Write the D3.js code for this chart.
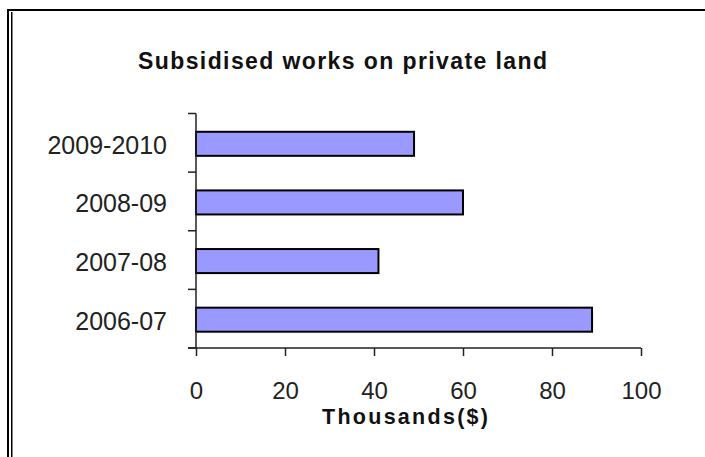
<!DOCTYPE html>
<html><head><meta charset="utf-8">
<script src="https://cdn.jsdelivr.net/npm/d3@7"></script>
<style>body{margin:0;background:#fff}svg{display:block}</style>
</head><body>
<script>
const categories = ["2009-2010", "2008-09", "2007-08", "2006-07"];
const values = [49, 60, 41, 89];
const xTicks = [0, 20, 40, 60, 80, 100];
const title = "Subsidised works on private land";
const xTitle = "Thousands($)";

const W = 705, H = 457;
const svg = d3.select("body").append("svg").attr("width", W).attr("height", H);
svg.append("rect").attr("width", W).attr("height", H).attr("fill", "#fff");

// frame
svg.append("rect").attr("x", 7).attr("y", 9).attr("width", W - 7).attr("height", 2).attr("fill", "#000");
svg.append("rect").attr("x", 7).attr("y", 9).attr("width", 2).attr("height", H - 9).attr("fill", "#000");
svg.append("rect").attr("x", 11).attr("y", 12).attr("width", 1.5).attr("height", H - 12).attr("fill", "#000");

const x = d3.scaleLinear().domain([0, 100]).range([196, 641]);
const y = d3.scaleBand().domain(categories).range([113.5, 348]).paddingInner(0.59).paddingOuter(0.295);

const font = "Arial, 'Liberation Sans', sans-serif";

svg.append("text").attr("x", 138).attr("y", 68.5).attr("font-family", font)
  .attr("font-size", 23).attr("font-weight", "bold").attr("fill", "#111")
  .attr("textLength", 409).attr("lengthAdjust", "spacing").text(title);

// bars
svg.append("g").selectAll("rect").data(categories).join("rect")
  .attr("x", x(0))
  .attr("y", (d) => y(d) + 1)
  .attr("width", (d, i) => x(values[i]) - x(0))
  .attr("height", y.bandwidth())
  .attr("fill", "#9999FF").attr("stroke", "#000").attr("stroke-width", 2);

// y axis
const yLine = svg.append("g").attr("stroke", "#222").attr("stroke-width", 1.5);
yLine.append("line").attr("x1", x(0)).attr("x2", x(0)).attr("y1", 113.5).attr("y2", 348);
const bounds = [113.5].concat(categories.map(c => y(c) - y.step() * y.paddingInner() / 2 + y.step()));
yLine.selectAll("line.t").data(bounds).join("line").attr("class", "t")
  .attr("x1", x(0) - 8).attr("x2", x(0)).attr("y1", d => d).attr("y2", d => d);

svg.append("g").selectAll("text").data(categories).join("text")
  .attr("x", 167).attr("y", d => y(d) + 2 + y.bandwidth() / 2)
  .attr("dy", "0.36em").attr("text-anchor", "end")
  .attr("font-family", font).attr("font-size", 25).attr("fill", "#222").text(d => d);

// x axis
const xa = svg.append("g").attr("transform", "translate(0,348)")
  .call(d3.axisBottom(x).tickValues(xTicks).tickSize(8).tickPadding(26).tickFormat(d3.format("d")));
xa.select(".domain").attr("stroke", "#222").attr("stroke-width", 1.5).attr("d", `M${x(0) - 8},0H${x(100)}`);
xa.selectAll(".tick line").attr("stroke", "#222").attr("stroke-width", 1.5);
xa.selectAll(".tick text").attr("font-family", font).attr("font-size", 24).attr("fill", "#222");

svg.append("text").attr("x", 405).attr("y", 424).attr("text-anchor", "middle")
  .attr("font-family", font).attr("font-size", 21.5).attr("font-weight", "bold").attr("fill", "#111")
  .attr("textLength", 166).attr("lengthAdjust", "spacing").text(xTitle);
</script>
</body></html>
